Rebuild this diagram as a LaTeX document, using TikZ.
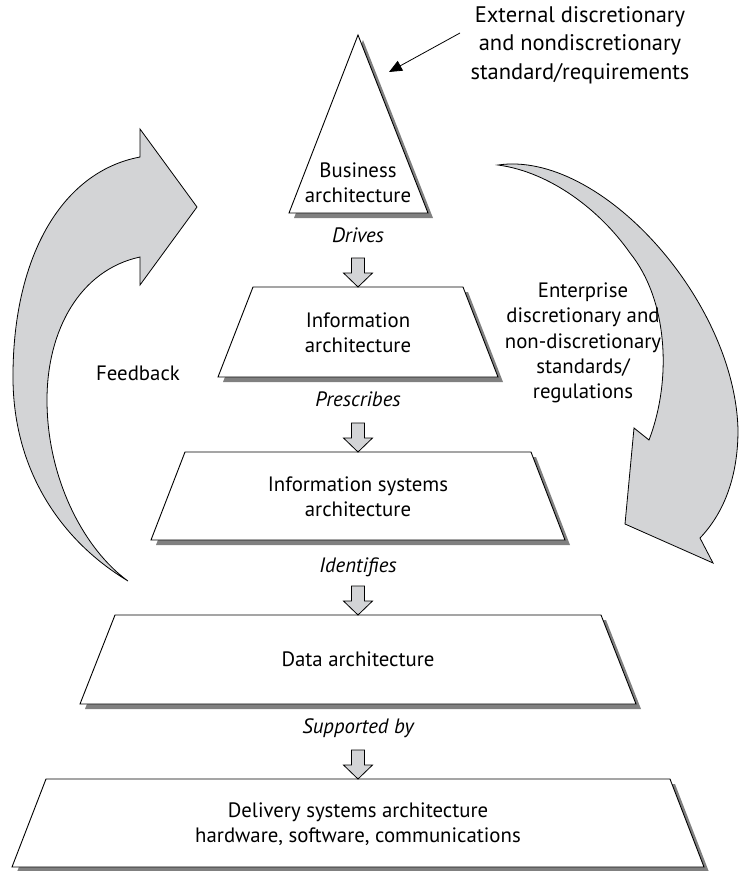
\documentclass[tikz,border=0pt]{standalone}
\usepackage{fontspec}
\setmainfont{PT Sans}
\usetikzlibrary{shadows,arrows.meta}
\definecolor{arrowgray}{RGB}{211,212,214}
\definecolor{shadowgray}{RGB}{128,128,128}
\tikzset{
  shadowed/.style={drop shadow={shadow xshift=5pt,shadow yshift=-5pt,fill=shadowgray,opacity=1}},
  layer/.style={draw=black,line width=0.9pt,fill=white,shadowed},
  label/.style={align=center,font=\fontsize{20.8}{25.3}\selectfont},
  tag/.style={font=\fontsize{20.8}{25.3}\selectfont\itshape,anchor=base},
  note/.style={align=center,font=\fontsize{20.8}{25.3}\selectfont},
  bigarrow/.style={draw=black,line width=0.8pt,fill=arrowgray,line join=miter},
  flowarrow/.style={draw=black,line width=0.8pt,fill=arrowgray}
}
\newcommand{\flowdown}[1]{\draw [flowarrow] (#1) -- ++(-14.5,-14) -- ++(8,0) -- ++(0,-15) -- ++(13,0) -- ++(0,15) -- ++(8,0) -- cycle;}

\begin{document}
\begin{tikzpicture}[x=1pt,y=-1pt]
        \tikzstyle{every node}+=[inner sep=0pt]
        \useasboundingbox (0,0) rectangle (739,871);
        \draw [bigarrow] (128,581) .. controls (60,540) and (14,470) .. (13,380)
          .. controls (12,260) and (60,172) .. (140,157) -- (140,129) -- (197,207) -- (140,285) -- (140,257)
          .. controls (80,270) and (47,330) .. (47,400) .. controls (47,480) and (85,550) .. (128,581) -- cycle;
        \draw [bigarrow] (498,165) .. controls (600,150) and (735,300) .. (738,430)
          .. controls (738,480) and (722,515) .. (700,538) -- (713,563) -- (625,524) -- (634,428) -- (649,440)
          .. controls (672,380) and (668,300) .. (630,253) .. controls (600,210) and (550,172) .. (498,165) -- cycle;
        \draw [layer] (358,35) -- (428,213) -- (289,213) -- cycle;
        \node [label] (business) at (358,183) {Business\\architecture};
        \node [tag] (drives) at (358,242) {Drives};
        \draw [layer] (253,287) -- (463,287) -- (498,377) -- (218,377) -- cycle;
        \coordinate (infotop) at (358,287);
        \node [label] (info) at (358,333) {Information\\architecture};
        \node [tag] (prescribes) at (358,406) {Prescribes};
        \draw [layer] (185,452) -- (531,452) -- (565,540) -- (151,540) -- cycle;
        \coordinate (infosystop) at (358,452);
        \node [label] (infosys) at (358,497) {Information systems\\architecture};
        \node [tag] (identifies) at (358,572) {Identifies};
        \draw [layer] (115,615) -- (601,615) -- (636,704) -- (80,704) -- cycle;
        \coordinate (datatop) at (358,615);
        \node [label] (data) at (358,659.5) {Data architecture};
        \node [tag] (supported) at (358,733) {Supported by};
        \draw [layer] (46,779) -- (670,779) -- (704,867) -- (12,867) -- cycle;
        \coordinate (deliverytop) at (358,779);
        \node [label] (delivery) at (358,824) {Delivery systems architecture\\hardware, software, communications};
        \flowdown{infotop}
        \flowdown{infosystop}
        \flowdown{datatop}
        \flowdown{deliverytop}
        \node [note,font=\fontsize{22.5}{28.5}\selectfont] (external) at (580,45) {External discretionary\\and nondiscretionary\\standard/requirements};
        \coordinate (extstart) at (460,33);
        \coordinate (exttip) at (389,72);
        \draw [black,line width=0.8pt,-{Triangle[length=13pt,width=11pt]}] (extstart) -- (exttip);
        \node [note] (enterprise) at (583,343) {Enterprise\\discretionary and\\non-discretionary\\standards/\\regulations};
        \node [tag] (feedback) at (138,380) {\upshape Feedback};
    \end{tikzpicture}
\end{document}
